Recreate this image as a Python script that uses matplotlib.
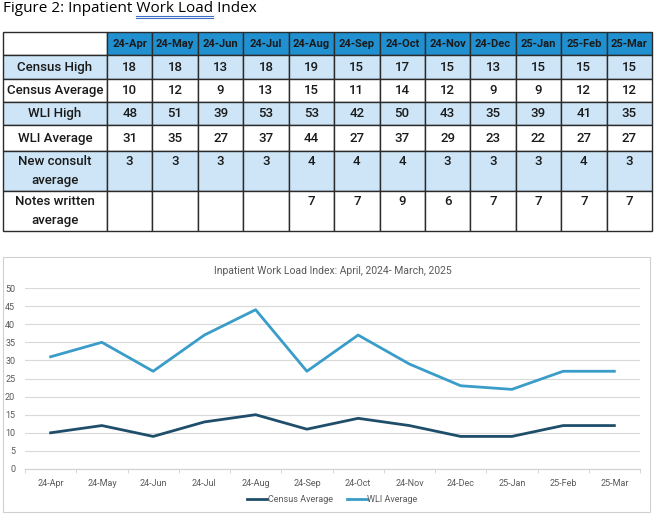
import matplotlib.pyplot as plt
from matplotlib.patches import Rectangle

# Datos
meses = ["24-Apr", "24-May", "24-Jun", "24-Jul", "24-Aug", "24-Sep",
         "24-Oct", "24-Nov", "24-Dec", "25-Jan", "25-Feb", "25-Mar"]
filas = ["Census High", "Census Average", "WLI High", "WLI Average",
         "New consult\naverage", "Notes written\naverage"]
census_high = [18, 18, 13, 18, 19, 15, 17, 15, 13, 15, 15, 15]
census_avg = [10, 12, 9, 13, 15, 11, 14, 12, 9, 9, 12, 12]
wli_high = [48, 51, 39, 53, 53, 42, 50, 43, 35, 39, 41, 35]
wli_avg = [31, 35, 27, 37, 44, 27, 37, 29, 23, 22, 27, 27]
new_consult = [3, 3, 3, 3, 4, 4, 4, 3, 3, 3, 4, 3]
notes_written = [None, None, None, None, 7, 7, 9, 6, 7, 7, 7, 7]

AZUL = "#2190D1"
AZUL_CLARO = "#CDE5F6"
C_CENSUS = "#1F4E6B"
C_WLI = "#3A9DC9"
GRIS = "#595959"

fig = plt.figure(figsize=(6.54, 5.16), dpi=100)
W, H = 654, 516

# Título con subrayado doble en "Work Load"
titulo = "Figure 2: Inpatient Work Load Index"
tx, ty = 3 / W, 1 - 9 / H
fig.text(tx, ty, titulo, fontsize=11, family="Open Sans", va="center", ha="left")
renderer = fig.canvas.get_renderer()


def ancho(s):
    t = fig.text(0, 0, s, fontsize=11, family="Open Sans")
    w = t.get_window_extent(renderer).width
    t.remove()
    return w


x0 = 3 + ancho("Figure 2: Inpatient ")
x1 = 3 + ancho("Figure 2: Inpatient Work Load")
for yy in (16, 18):
    fig.add_artist(plt.Line2D([x0 / W, x1 / W], [1 - yy / H, 1 - yy / H],
                              color="#3F6FC4", lw=0.8, transform=fig.transFigure))

# Tabla
ax_t = fig.add_axes([3 / W, 1 - 231 / H, 649 / W, 199 / H])
ax_t.axis("off")


def fmt(v, doble):
    s = "" if v is None else str(v)
    return s + "\n" if doble else s


series = [census_high, census_avg, wli_high, wli_avg, new_consult, notes_written]
celdas = [[""] + meses]
for i, (nombre, vals) in enumerate(zip(filas, series)):
    doble = "\n" in nombre
    celdas.append([nombre] + [fmt(v, doble) for v in vals])

alturas = [23, 24, 23, 23, 25, 40, 40]
ancho_primera = 104
ancho_col = (649 - ancho_primera) / 12

tabla = ax_t.table(cellText=celdas, cellLoc="center", bbox=[0, 0, 1, 1])
tabla.auto_set_font_size(False)
for (r, c), cell in tabla.get_celld().items():
    cell.set_height(alturas[r])
    cell.set_width(ancho_primera if c == 0 else ancho_col)
    cell.set_edgecolor("#2b2b2b")
    cell.set_linewidth(1.0)
    txt = cell.get_text()
    txt.set_fontsize(9.5)
    txt.set_family("Roboto")
    txt.set_fontweight("medium")
    txt.set_color("#1a1a1a")
    txt.set_linespacing(1.6)
    if r == 0:
        cell.set_facecolor("white" if c == 0 else AZUL)
        txt.set_fontweight("bold")
        txt.set_fontsize(8)
    elif r % 2 == 1:
        cell.set_facecolor(AZUL_CLARO)
    else:
        cell.set_facecolor("white")

# Recuadro del gráfico
fig.add_artist(Rectangle((3 / W, 1 - 512 / H), 647 / W, 255 / H,
                         transform=fig.transFigure, fill=False,
                         edgecolor="#D0D0D0", lw=0.8))

# Gráfico de líneas
ax = fig.add_axes([25 / W, 47 / H, 615 / W, 181 / H])
x = range(len(meses))
ax.plot(x, census_avg, color=C_CENSUS, lw=2, label="Census Average")
ax.plot(x, wli_avg, color=C_WLI, lw=2, label="WLI Average")
ax.set_xlim(-0.5, 11.5)
ax.set_ylim(0, 50)
ax.set_yticks(range(0, 51, 5))
ax.set_xticks(list(x))
ax.set_xticklabels(meses)
ax.set_xticks([i - 0.5 for i in range(13)], minor=True)
ax.tick_params(axis="x", which="major", length=0, labelsize=6.5, labelcolor=GRIS, pad=7)
ax.tick_params(axis="x", which="minor", length=3, color="#D0D0D0")
ax.tick_params(axis="y", length=0, labelsize=6.5, labelcolor=GRIS, pad=7)
for lab in ax.get_xticklabels() + ax.get_yticklabels():
    lab.set_family("Roboto")
ax.grid(axis="y", color="#D9D9D9", lw=0.8)
ax.set_axisbelow(True)
for s in ("top", "right", "left"):
    ax.spines[s].set_visible(False)
ax.spines["bottom"].set_color("#D0D0D0")
ax.set_title("Inpatient Work Load Index: April, 2024- March, 2025",
             fontsize=7.5, color=GRIS, pad=10, family="Roboto")
ax.legend(loc="upper center", bbox_to_anchor=(0.5, -0.10), ncol=2, frameon=False,
          prop={"family": "Roboto", "size": 6.5}, labelcolor=GRIS,
          handlelength=2.2, handletextpad=0.1, columnspacing=1.5)

plt.savefig("out.png", dpi=100)
